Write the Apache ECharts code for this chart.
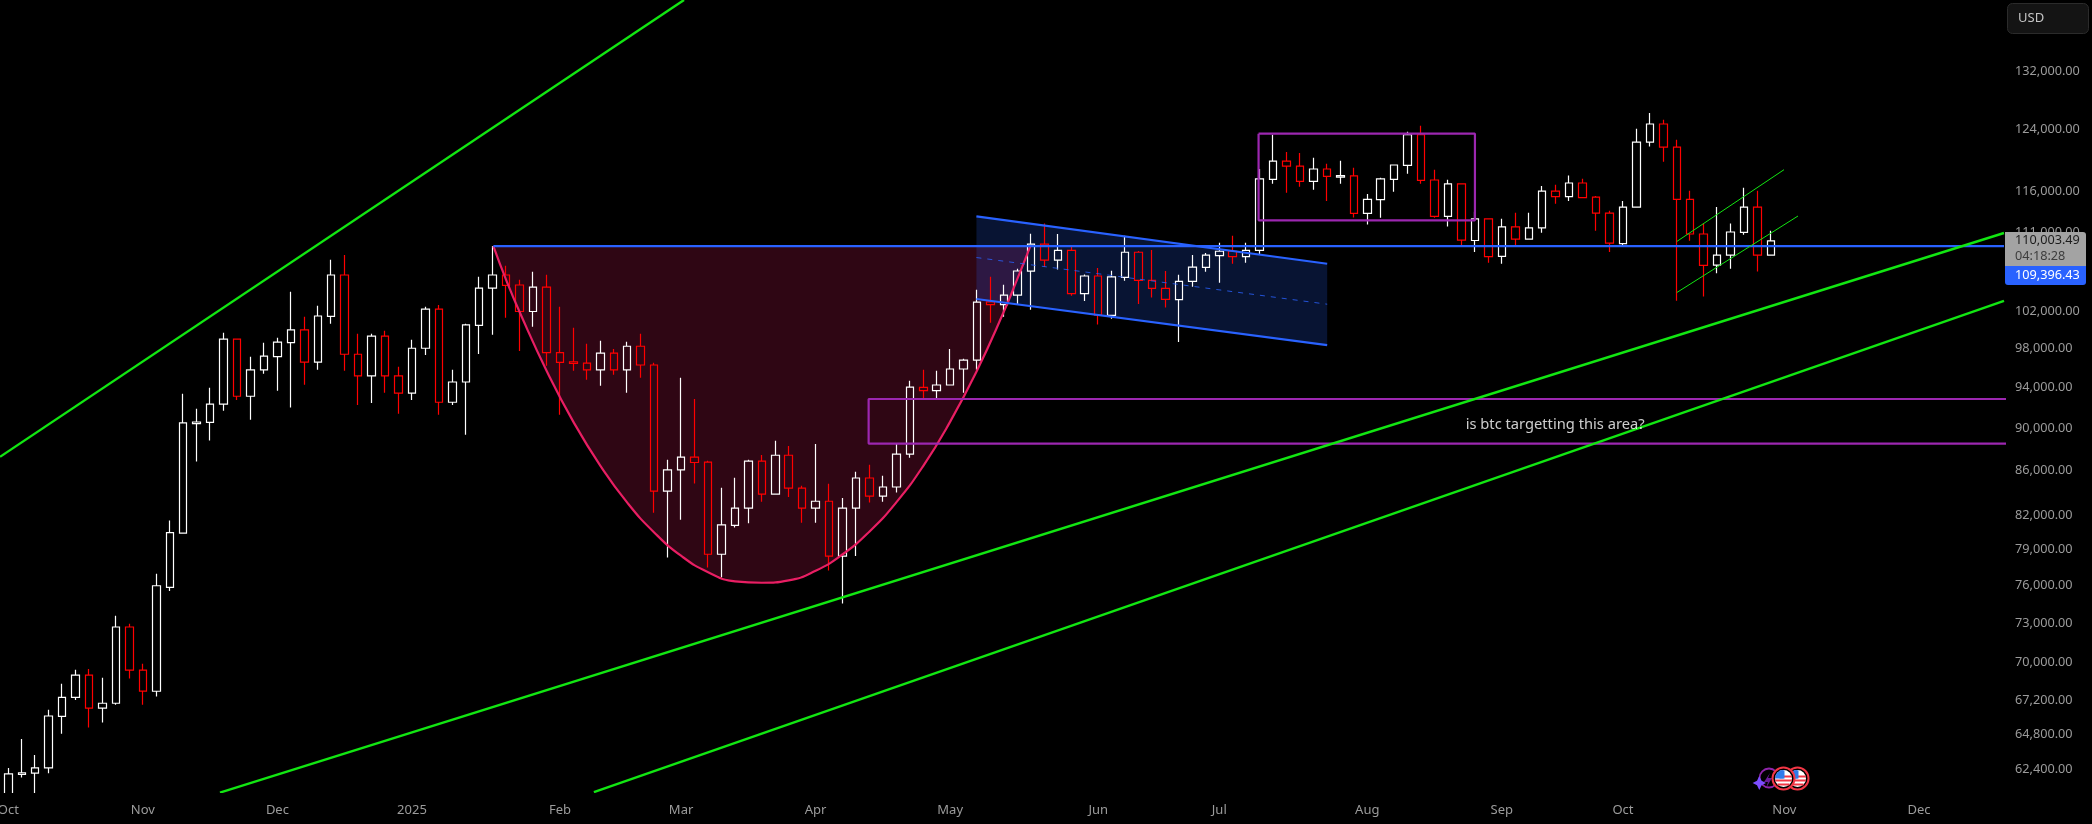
<!DOCTYPE html>
<html>
<head>
<meta charset="utf-8">
<style>html,body{margin:0;padding:0;background:#000}#chart{width:2092px;height:824px}</style>
<script src="https://cdn.jsdelivr.net/npm/echarts@6/dist/echarts.min.js"></script>
</head>
<body>
<div id="chart"></div>
<script>
// Three-day BTCUSD candles, oldest first
const opens = [59750,62080,62170,62510,66060,67430,69060,66650,67000,72710,69430,67870,75860,80420,90430,90550,92340,99020,93130,95790,
  97180,98650,99990,96610,101450,106060,97420,95180,99340,95180,93440,98050,102250,92530,94560,100480,104580,106060,104930,101990,
  104700,97590,96640,96500,95790,97530,95790,98260,96300,84120,86050,87240,86780,78610,81080,82600,86870,83840,87420,84390,
  82600,83210,78450,82600,85310,83660,84490,87520,94010,93700,94260,95890,96810,103040,102750,103790,106500,109630,107770,108910,
  103970,105950,101560,105790,108680,105450,104540,103290,105340,106930,108290,108800,108180,108910,117520,119850,119210,117260,118830,117810,
  117950,113300,114980,117520,119290,123280,117440,112940,116940,110060,112630,108200,111670,110230,111550,116050,115370,117060,115290,113350,
  109700,114070,122310,124710,121640,115030,110830,107200,108340,111020,114070,108340];
const closes = [62110,62190,62510,66090,67430,69060,66650,67000,72710,69430,67880,76000,80450,90500,90590,92340,99020,93130,95790,97220,
  98690,99990,96610,101500,106060,97420,95180,99340,95180,93440,98050,102250,92530,94560,100530,104580,106060,104880,101990,104700,
  97590,96570,96460,95790,97530,95790,98260,96300,84120,86050,87240,86740,78610,81120,82600,86870,83840,87420,84390,82600,
  83210,78450,82600,85310,83660,84490,87520,94050,93700,94260,95890,96810,103010,102750,103790,106520,109630,107770,108910,103970,
  105950,101600,105840,108680,105450,104540,103330,105340,106970,108340,108800,108180,108910,117570,119850,119210,117260,118830,117900,117990,
  113300,115030,117570,119340,123280,117390,112940,116940,110110,112630,108180,111670,110210,111550,116050,115370,117060,115240,113350,109750,
  114070,122310,124710,121640,115030,110830,107160,108340,111070,114070,108340,110003.49];
const lows = [58480,61880,60730,62150,64850,67230,65290,65640,66900,68810,66900,67480,75570,80350,86840,88810,91690,92750,90820,95410,
  93670,92010,94290,95820,100670,95720,92270,92460,93470,91400,92750,97350,91300,92270,89360,97450,99480,101310,97760,100340,
  96230,91300,95720,94800,94180,95310,93470,95000,82190,78330,81580,84820,77510,76680,80910,81260,83170,83800,83600,81320,
  81320,77260,74560,78470,83090,83170,83990,87180,92930,92860,94200,93470,95820,100770,101420,102710,102180,106970,106700,103740,
  103150,100590,101210,105420,102820,103520,102420,98720,104730,106440,105190,107350,107460,108410,116970,115830,116590,116210,114830,116970,
  112820,111950,112790,115960,118240,116970,112790,111710,109300,108720,107460,107350,109460,110180,110990,114470,114830,115200,111230,108720,
  109300,114000,121720,119760,103180,110030,103630,106250,106780,110750,106470,108300];
const highs = [62510,64480,63390,66530,68420,69460,69510,68860,73600,72970,69900,76990,81500,93370,91880,93980,99700,99060,97150,98620,
  99160,104160,101420,102610,107810,108370,99590,99590,99910,96130,98940,102500,102710,95820,100670,105870,109400,107120,105530,106440,
  106100,102500,100240,98510,98830,97970,98730,99590,96530,86990,95000,92860,86900,84420,85340,86990,87450,88780,88300,84600,
  88490,84790,83500,85890,86530,85520,88490,94700,95820,95720,97970,96940,104390,105870,104960,106780,110870,112070,110830,109340,
  106130,106860,106550,110630,108830,108940,106520,106100,108370,108600,109790,110630,109790,118830,123280,121020,120900,120260,119500,119880,
  119000,115700,117730,119380,123680,124480,118750,117480,116970,113500,112660,112670,113390,113390,116680,116850,117990,117610,115450,113620,
  114830,124080,126180,125290,122610,116090,112100,114100,112070,116470,116090,111230];

// Axis labels
const priceTicks = [132000,124000,116000,111000,102000,98000,94000,90000,86000,82000,79000,76000,73000,70000,67200,64800,62400];
const monthLabels = ['Oct','Nov','Dec','2025','Feb','Mar','Apr','May','Jun','Jul','Aug','Sep','Oct','Nov','Dec'];
const monthCandles = [0,10,20,30,41,50,60,70,81,90,101,111,120,132,142];

// Visible window: candle numbers along x, prices along the log y scale
const xMin = -0.617, xMax = 148.32;
const priceMin = 60853, priceMax = 142445;

// Drawn levels and trend lines as [candle number, price]
const lastPrice = 110003.49;
const neckline = 109396.43;
const supportTop = [[-0.617,87267],[50.22,142445]];
const supportMid = [[15.73,60883],[148.32,110949]];
const supportLow = [[43.52,60917],[148.32,103146]];
const wedgeUpper = [[124,109941],[131.97,118745]];
const wedgeLower = [[124,104084],[133.01,112989]];
const channelUpper = [[71.95,112941],[98.02,107350]];
const channelLower = [[71.95,103368],[98.02,98370]];
const channelMiddle = [[71.95,108067],[98.02,102790]];
const rangeBox = [[92.92,123415],[109,123415],[109,112461],[92.92,112461],[92.92,123415]];
const targetBox = [[150,92855],[63.94,92855],[63.94,88518],[150,88518]];
const cupCurve = [[36.05,neckline],[37.04,105347],[38.05,101766],[40.04,95615],[42.04,90505],[44.03,86386],[46.03,83042],[48.02,80449],
  [50.02,78466],[52.01,77113],[54.01,76362],[56.01,76247],[58,76445],[60,77237],[61.99,78590],[63.99,80536],[65.98,83085],[67.98,86386],
  [69.97,90553],[71.97,95655],[73.96,101874],[74.97,105529],[75.96,neckline]];
const noteText = 'is btc targetting this area?';
const notePoint = [114.96,90330];

const GREEN = '#12e612', BLUE = '#2962ff', PURPLE = '#9c27b0', PINK = '#e91e63';
const FONT = '"Noto Sans", sans-serif';
const AXIS_GREY = '#9b9b9b';

function lineSeries(points, color, width, extra) {
  return Object.assign({
    type: 'line', data: points, symbol: 'none', silent: true, z: 5, animation: false,
    lineStyle: { color: color, width: width }
  }, extra || {});
}

// Filled zone between a list of points, projected through the axes
function zoneSeries(points, fill) {
  return {
    type: 'custom', coordinateSystem: 'cartesian2d', silent: true, z: 1, clip: true, animation: false,
    data: [0],
    renderItem: function (params, api) {
      return {
        type: 'polygon',
        shape: { points: points.map(function (p) { return api.coord(p); }) },
        style: { fill: fill, stroke: null }
      };
    }
  };
}

const chart = echarts.init(document.getElementById('chart'), null, { renderer: 'canvas' });

// Economic-event markers at the foot of the price pane
function flagMarker(cx, cy) {
  const r = 8.5;
  const parts = [
    { type: 'circle', shape: { cx: cx, cy: cy, r: 11 }, style: { fill: '#000', stroke: '#f23645', lineWidth: 2 } },
    { type: 'circle', shape: { cx: cx, cy: cy, r: r }, style: { fill: '#ffffff' } }
  ];
  [-3, 1, 5].forEach(function (dy) {
    const half = Math.sqrt(r * r - (dy + 1) * (dy + 1));
    parts.push({ type: 'rect', shape: { x: cx - half, y: cy + dy, width: half * 2, height: 2 }, style: { fill: '#f23645' } });
  });
  parts.push({
    type: 'sector',
    shape: { cx: cx, cy: cy, r: r, startAngle: Math.PI, endAngle: Math.PI * 1.5 },
    style: { fill: '#2f7bea' }
  });
  parts.push({ type: 'rect', shape: { x: cx - 4, y: cy - 8, width: 5, height: 8 }, style: { fill: '#2f7bea' } });
  return parts;
}

const eventGraphics = [
  { type: 'circle', shape: { cx: 1769, cy: 778, r: 9.5 }, style: { fill: 'none', stroke: '#8e24aa', lineWidth: 1.8 } },
  { type: 'polygon', shape: { points: [[1770,773],[1764,782],[1768,782],[1766,788],[1772,778],[1768,778]] }, style: { fill: '#6a1b9a' } },
  { type: 'polygon', shape: { points: [[1759.3,776],[1761.6,780.8],[1766,783],[1761.6,785.2],[1759.3,790],[1757,785.2],[1752.6,783],[1757,780.8]] }, style: { fill: '#7c4dff' } }
].concat(flagMarker(1797.5, 778.5), flagMarker(1783.5, 778.5));

chart.setOption({
  backgroundColor: '#000000',
  animation: false,
  textStyle: { fontFamily: FONT },
  grid: { left: 0, top: 0, width: 2004, height: 793, containLabel: false, outerBoundsMode: 'none' },
  xAxis: {
    type: 'value', min: xMin, max: xMax, z: 20,
    axisLine: { show: false }, axisTick: { show: false }, splitLine: { show: false },
    axisLabel: {
      color: AXIS_GREY, fontSize: 13, fontFamily: FONT, margin: 11, hideOverlap: false,
      customValues: monthCandles,
      formatter: function (v) { return monthLabels[monthCandles.indexOf(v)]; }
    }
  },
  yAxis: {
    type: 'log', logBase: 10, min: priceMin, max: priceMax, position: 'right', z: 20,
    axisLine: { show: false }, axisTick: { show: false }, splitLine: { show: false },
    axisLabel: {
      color: AXIS_GREY, fontSize: 12.7, fontFamily: FONT, margin: 11, align: 'left', padding: [0, 0, 3, 0],
      customValues: priceTicks,
      formatter: function (v) {
        return Number(v).toLocaleString('en-US', { minimumFractionDigits: 2, maximumFractionDigits: 2 });
      }
    }
  },
  series: [
    zoneSeries(cupCurve, 'rgba(233,30,99,0.2)'),
    zoneSeries(channelUpper.concat(channelLower.slice().reverse()), 'rgba(41,98,255,0.2)'),
    {
      type: 'candlestick', z: 3, clip: true, barWidth: 8, animation: false, silent: true,
      encode: { x: 0, y: [1, 2, 3, 4] },
      data: opens.map(function (o, i) { return [i, o, closes[i], lows[i], highs[i]]; }),
      itemStyle: { color: 'transparent', color0: 'transparent', borderColor: '#ffffff', borderColor0: '#ff0000', borderWidth: 1.2 }
    },
    lineSeries(cupCurve, PINK, 2.2, { smooth: 0.5 }),
    lineSeries([[36.05, neckline], [xMax, neckline]], BLUE, 2.2),
    lineSeries(channelUpper, BLUE, 2.2),
    lineSeries(channelLower, BLUE, 2.2),
    lineSeries(channelMiddle, BLUE, 1, { lineStyle: { color: BLUE, width: 1, type: [5, 6], opacity: 0.8 } }),
    lineSeries(rangeBox, PURPLE, 2.2),
    lineSeries(targetBox, PURPLE, 2.2),
    lineSeries(supportTop, GREEN, 2.4),
    lineSeries(supportMid, GREEN, 2.4),
    lineSeries(supportLow, GREEN, 2.4),
    lineSeries(wedgeUpper, GREEN, 1),
    lineSeries(wedgeLower, GREEN, 1),
    {
      type: 'scatter', z: 6, silent: true, symbolSize: 0, animation: false,
      data: [notePoint],
      label: { show: true, position: 'inside', formatter: noteText, color: '#ffffff', fontSize: 14.7, fontFamily: FONT }
    }
  ],
  graphic: [
    // Masks candles running past the bottom of the pane, beneath the date labels
    { type: 'rect', z: 10, shape: { x: 0, y: 793, width: 2092, height: 31 }, style: { fill: '#000000' } },
    { type: 'rect', z: 100, shape: { x: 2007.5, y: 3.5, width: 81, height: 30, r: 5 }, style: { fill: '#141414', stroke: '#2b2b2b', lineWidth: 1 } },
    { type: 'text', z: 101, style: { x: 2018, y: 18.5, text: 'USD', fill: '#c4c4c4', font: '13px ' + FONT, verticalAlign: 'middle' } },
    { type: 'rect', z: 100, shape: { x: 2005, y: 232, width: 81, height: 34, r: [0, 3, 0, 0] }, style: { fill: '#a3a3a3' } },
    { type: 'rect', z: 100, shape: { x: 2005, y: 266, width: 81, height: 19, r: [0, 0, 3, 3] }, style: { fill: BLUE } },
    { type: 'text', z: 101, style: { x: 2015, y: 240, text: lastPrice.toLocaleString('en-US', { minimumFractionDigits: 2 }), fill: '#1c1c1c', font: '12.7px ' + FONT, verticalAlign: 'middle' } },
    { type: 'text', z: 101, style: { x: 2015, y: 256, text: '04:18:28', fill: '#3d3d3d', font: '12.7px ' + FONT, verticalAlign: 'middle' } },
    { type: 'text', z: 101, style: { x: 2015, y: 275, text: neckline.toLocaleString('en-US', { minimumFractionDigits: 2 }), fill: '#ffffff', font: '12.7px ' + FONT, verticalAlign: 'middle' } }
  ].concat(eventGraphics.map(function (g, i) { return Object.assign({ z: 50 + i }, g); }))
});
</script>
</body>
</html>
